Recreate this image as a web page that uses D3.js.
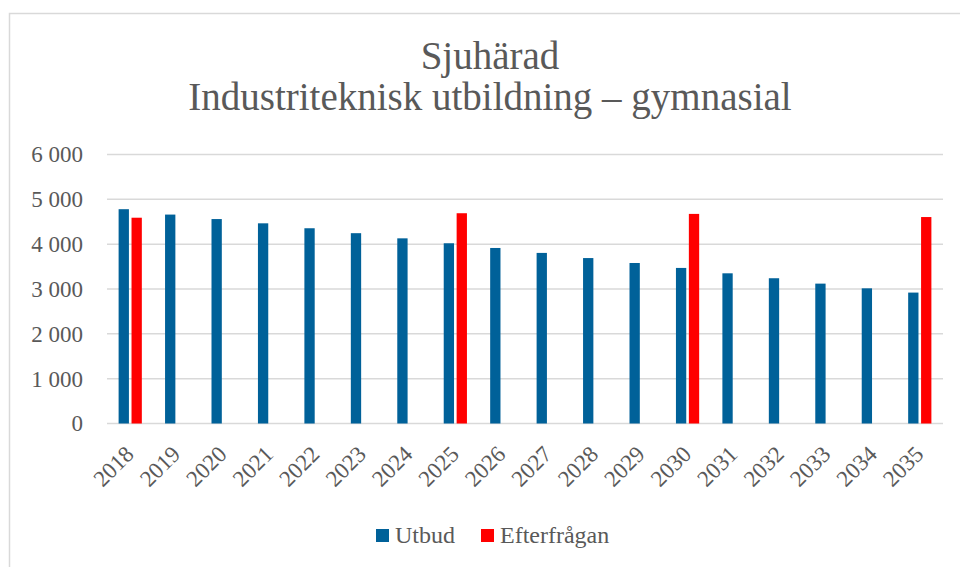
<!DOCTYPE html>
<html>
<head>
<meta charset="utf-8">
<script src="https://d3js.org/d3.v7.min.js"></script>
<style>
  body { margin: 0; background: white; }
  text { font-family: "Liberation Serif", serif; fill: #595959; }
  .grid line { stroke: #d9d9d9; stroke-width: 1.5px; }
</style>
</head>
<body>
<div id="chart"></div>
<script>
var years = ["2018", "2019", "2020", "2021", "2022", "2023", "2024", "2025", "2026",
             "2027", "2028", "2029", "2030", "2031", "2032", "2033", "2034", "2035"];
var utbud = [4780, 4660, 4560, 4465, 4355, 4245, 4130, 4020, 3915,
             3805, 3690, 3580, 3470, 3350, 3240, 3120, 3015, 2920];
var efterfragan = [4590, null, null, null, null, null, null, 4690, null,
                   null, null, null, 4675, null, null, null, null, 4605];
var yTicks = [0, 1000, 2000, 3000, 4000, 5000, 6000];
var titleLines = ["Sjuhärad", "Industriteknisk utbildning – gymnasial"];
var legendNames = ["Utbud", "Efterfrågan"];
var colors = ["#006199", "#ff0000"];

var width = 960, height = 567;
var svg = d3.select("#chart").append("svg")
  .attr("width", width)
  .attr("height", height);

// chart frame
svg.append("rect")
  .attr("x", 9.5).attr("y", 13.5)
  .attr("width", 970).attr("height", 600)
  .attr("fill", "white")
  .attr("stroke", "#d9d9d9")
  .attr("stroke-width", 1.5);

var x = d3.scaleBand().domain(years).range([107, 943]);
var y = d3.scaleLinear().domain([0, 6000]).range([423.5, 154.5]);

// title
svg.selectAll(".title")
  .data(titleLines).enter()
  .append("text")
  .attr("class", "title")
  .attr("x", 490)
  .attr("y", function (d, i) { return 69 + i * 41; })
  .attr("text-anchor", "middle")
  .style("font-size", "39px")
  .text(function (d) { return d; });

// gridlines
svg.append("g").attr("class", "grid")
  .selectAll("line")
  .data(yTicks).enter()
  .append("line")
  .attr("x1", 107).attr("x2", 943)
  .attr("y1", function (d) { return y(d); })
  .attr("y2", function (d) { return y(d); });

// y axis
var yAxis = d3.axisLeft(y)
  .tickValues(yTicks)
  .tickSize(0)
  .tickPadding(0)
  .tickFormat(function (d) { return d3.format(",")(d).replace(",", " "); });
var gy = svg.append("g").attr("transform", "translate(83,0)").call(yAxis);
gy.select(".domain").remove();
gy.selectAll("text").style("font-size", "23px").attr("fill", "#595959").attr("font-family", "Liberation Serif");

// bars
var bw = x.bandwidth() * 0.222, gap = x.bandwidth() * 0.056;
var cx = function (d) { return x(d) + x.bandwidth() / 2; };

svg.append("g").selectAll("rect")
  .data(years).enter()
  .append("rect")
  .attr("x", function (d) { return cx(d) - gap / 2 - bw; })
  .attr("y", function (d, i) { return y(utbud[i]); })
  .attr("width", bw)
  .attr("height", function (d, i) { return y(0) - y(utbud[i]); })
  .attr("fill", colors[0]);

svg.append("g").selectAll("rect")
  .data(years.filter(function (d, i) { return efterfragan[i] != null; })).enter()
  .append("rect")
  .attr("x", function (d) { return cx(d) + gap / 2; })
  .attr("y", function (d) { return y(efterfragan[years.indexOf(d)]); })
  .attr("width", bw)
  .attr("height", function (d) { return y(0) - y(efterfragan[years.indexOf(d)]); })
  .attr("fill", colors[1]);

// x axis labels
var xAxis = d3.axisBottom(x).tickSize(0).tickPadding(0);
var gx = svg.append("g").attr("transform", "translate(0,423.5)").call(xAxis);
gx.select(".domain").remove();
gx.selectAll("text")
  .style("font-size", "23px")
  .attr("fill", "#595959")
  .attr("font-family", "Liberation Serif")
  .attr("text-anchor", "end")
  .attr("dy", null)
  .attr("y", 0)
  .attr("transform", "translate(5,32) rotate(-45)");

// legend
var legendX = [376, 481];
var lg = svg.append("g").selectAll("g")
  .data(legendNames).enter()
  .append("g")
  .attr("transform", function (d, i) { return "translate(" + legendX[i] + ",529)"; });
lg.append("rect")
  .attr("width", 13).attr("height", 13)
  .attr("fill", function (d, i) { return colors[i]; });
lg.append("text")
  .attr("x", 19).attr("y", 14)
  .style("font-size", "24px")
  .text(function (d) { return d; });
</script>
</body>
</html>
